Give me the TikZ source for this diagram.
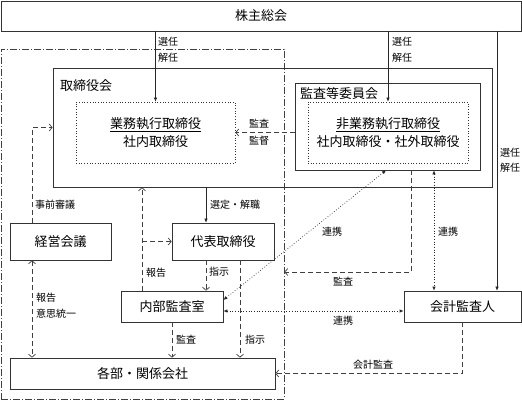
\documentclass[tikz,border=0pt]{standalone}
\usepackage{fontspec}
\setmainfont{Noto Sans CJK JP}
\usetikzlibrary{arrows.meta,calc}

\begin{document}
\begin{tikzpicture}[x=1pt,y=-1pt,
  box/.style={draw=black!80,line width=0.7pt,inner sep=0pt,font=\fontsize{13}{18}\selectfont},
  title/.style={anchor=west,inner sep=0pt,font=\fontsize{13}{18}\selectfont},
  dotbox/.style={draw=black!80,dotted,line width=0.7pt,inner sep=0pt,align=center,font=\fontsize{13}{18}\selectfont},
  lbl/.style={anchor=west,inner sep=0pt,font=\fontsize{10}{12}\selectfont},
  solidarr/.style={draw=black!85,line width=0.6pt,-{Latex[length=4pt,width=3.5pt]}},
  dasharr/.style={draw=black!75,line width=0.7pt,dash pattern=on 5pt off 3pt,-{Straight Barb[length=3pt,width=7pt]}},
  dotarr/.style={draw=black!85,line width=0.7pt,dotted,{Latex[length=4pt,width=3.5pt]}-{Latex[length=4pt,width=3.5pt]}}]
\useasboundingbox (0,0) rectangle (522,401);
\node[draw=black!75,line width=0.7pt,dash pattern=on 7pt off 2pt on 1pt off 2pt,minimum width=283pt,minimum height=350pt] (grp) at (142.5,224) {};
\node[box,minimum width=520pt,minimum height=30pt] (kabu) at (261,16) {株主総会};
\node[box,minimum width=439pt,minimum height=119pt] (board) at (272.5,127.5) {};
\node[title] (boardlbl) at (60,86) {取締役会};
\node[dotbox,minimum width=159pt,minimum height=61pt] (exec) at (155.5,132.5) {\underline{業務執行取締役}\\社内取締役};
\node[box,minimum width=185pt,minimum height=87pt] (acom) at (387.5,126.5) {};
\node[title] (acomlbl) at (300,94) {監査等委員会};
\node[dotbox,minimum width=160pt,minimum height=61pt] (nonexec) at (388,132.5) {\underline{非業務執行取締役}\\社内取締役・社外取締役};
\node[box,minimum width=101pt,minimum height=37pt] (keiei) at (60.5,241.5) {経営会議};
\node[box,minimum width=102pt,minimum height=37pt] (daihyo) at (223,241.5) {代表取締役};
\node[box,minimum width=102pt,minimum height=31pt] (naibu) at (172,306.5) {内部監査室};
\node[box,minimum width=117pt,minimum height=31pt] (kaikei) at (462.5,306.5) {会計監査人};
\node[box,minimum width=265pt,minimum height=31pt] (kakubu) at (142.5,373.5) {各部・関係会社};
% 選任・解任
\draw[solidarr] (kabu.south -| exec.north) -- (exec.north);
\draw[solidarr] (kabu.south -| nonexec.north) -- (nonexec.north);
\coordinate (kk) at ([xshift=34.5]kaikei.north);
\draw[solidarr] (kabu.south -| kk) -- (kk);
\node[lbl] (s1) at (158,42) {選任};
\node[lbl] (s1b) at (158,58) {解任};
\node[lbl] (s2) at (392,42) {選任};
\node[lbl] (s2b) at (392,58) {解任};
\node[lbl] (s3) at (500,153) {選任};
\node[lbl] (s3b) at (500,168) {解任};
% 監査・監督
\draw[dasharr] (acom.west |- exec.east) -- (exec.east);
\node[lbl] (k1) at (249,124) {監査};
\node[lbl] (k1b) at (249,141) {監督};
% 選定・解職
\coordinate (d1) at ([xshift=-17]daihyo.north);
\draw[solidarr] (board.south -| d1) -- (d1);
\node[lbl] (sen) at (210,205) {選定・解職};
% 事前審議
\coordinate (m1) at ([xshift=-28.5]keiei.north);
\draw[dasharr] (m1) |- (board.west);
\node[lbl] (ji) at (35,205) {事前審議};
% 報告・意思統一
\coordinate (m2) at ([xshift=-28.5]keiei.south);
\draw[dasharr,{Straight Barb[length=3pt,width=7pt]}-{Straight Barb[length=3pt,width=7pt]}] (m2) -- (m2 |- kakubu.north);
\node[lbl] (h1) at (36,298) {報告};
\node[lbl] (h1b) at (36,314) {意思統一};
% 報告 (内部監査室)
\coordinate (n1) at ([xshift=-30]naibu.north);
\draw[dasharr] (n1) -- (n1 |- board.south);
\draw[dasharr] (n1 |- daihyo.west) -- (daihyo.west);
\node[lbl] (h2) at (146,273) {報告};
% 指示
\draw[dasharr] (d1 |- daihyo.south) -- (d1 |- naibu.north);
\node[lbl] (sj1) at (209,272) {指示};
\coordinate (d2) at ([xshift=17]daihyo.south);
\draw[dasharr] (d2) -- (d2 |- kakubu.north);
\node[lbl] (sj2) at (245,340) {指示};
% 監査
\draw[dasharr] (naibu.south) -- (naibu.south |- kakubu.north);
\node[lbl] (k2) at (176,340) {監査};
\coordinate (a1) at ([xshift=23.5]acom.south);
\coordinate (a2) at (411,272);
\draw[dasharr] (a1) -- (a2) -- (a2 -| grp.east);
\node[lbl] (k3) at (333,282) {監査};
% 連携
\draw[dotarr] ([xshift=-1.5]acom.south) -- ([yshift=6.5]naibu.east);
\node[lbl] (r1) at (322,232) {連携};
\coordinate (r2) at ([xshift=46.5]acom.south);
\draw[dotarr] (r2) -- (r2 |- kaikei.north);
\node[lbl] (r2l) at (438,232) {連携};
\draw[dotarr] ([yshift=-4.5]naibu.east) -- ([yshift=-4.5]kaikei.west);
\node[lbl] (r3) at (333,321) {連携};
% 会計監査
\draw[dasharr] (kaikei.south) |- (kakubu.east);
\node[lbl] (kk2) at (353,365) {会計監査};
\end{tikzpicture}
\end{document}
